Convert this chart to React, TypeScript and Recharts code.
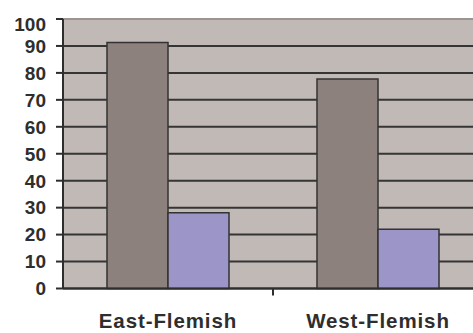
import {
  BarChart,
  Bar,
  XAxis,
  YAxis,
  CartesianGrid,
  ReferenceLine,
} from "recharts"

const categories = ["East-Flemish", "West-Flemish"]
const firstValues = [91.3, 77.7]
const secondValues = [28.1, 22.0]
const yTicks = [0, 10, 20, 30, 40, 50, 60, 70, 80, 90, 100]

const data = categories.map((name, i) => ({
  name,
  first: firstValues[i],
  second: secondValues[i],
}))

const FONT = "'Liberation Sans', Arial, Helvetica, sans-serif"
const INK = "#2e2e2e"
const Y_TICK_SIZE = 7
const Y_TICK_MARGIN = 10
const X_TICK_SIZE = 6
const X_TICK_MARGIN = 2

// y labels sit centred on their gridline, except the top one which is kept inside the frame
function YTick({ x, y, payload }: any) {
  const cy = Math.max(y, 24)
  return (
    <g>
      <line
        x1={x + Y_TICK_MARGIN}
        x2={x + Y_TICK_MARGIN + Y_TICK_SIZE}
        y1={y}
        y2={y}
        stroke={INK}
        strokeWidth={2}
      />
      <text
        x={x}
        y={cy}
        dy={6.8}
        textAnchor="end"
        fontFamily={FONT}
        fontWeight={700}
        fontSize={19}
        fill={INK}
      >
        {payload.value}
      </text>
    </g>
  )
}

// category label plus a small tick mark on the band's left boundary
function XTick({ x, y, payload, index }: any) {
  const left = x - (payload.offset ?? 0)
  const axisY = y - X_TICK_SIZE - X_TICK_MARGIN
  return (
    <g>
      {index > 0 && (
        <line x1={left} x2={left} y1={axisY} y2={axisY + 7} stroke={INK} strokeWidth={2} />
      )}
      <text
        x={x}
        y={327.5}
        textAnchor="middle"
        fontFamily={FONT}
        fontWeight={700}
        fontSize={20.5}
        letterSpacing={0.9}
        fill={INK}
      >
        {payload.value}
      </text>
    </g>
  )
}

export default function App() {
  return (
    <div
      style={{
        position: "fixed",
        left: 0,
        top: 0,
        width: 473,
        height: 333,
        overflow: "hidden",
        background: "#fff",
      }}
    >
      <BarChart
        width={483}
        height={333}
        data={data}
        margin={{ top: 19, right: 0, left: 0, bottom: 0 }}
        barCategoryGap={44}
        barGap={0}
      >
        <CartesianGrid
          vertical={false}
          fill="#C1B9B6"
          fillOpacity={1}
          stroke="#353535"
          strokeWidth={2}
        />
        <ReferenceLine y={100} stroke="#9c9491" strokeWidth={2} />
        <XAxis
          dataKey="name"
          height={44.5}
          axisLine={{ stroke: INK, strokeWidth: 2 }}
          tickLine={false}
          tickSize={X_TICK_SIZE}
          tickMargin={X_TICK_MARGIN}
          tick={<XTick />}
          interval={0}
        />
        <YAxis
          width={63}
          domain={[0, 100]}
          ticks={yTicks}
          interval={0}
          axisLine={{ stroke: INK, strokeWidth: 2 }}
          tickLine={false}
          tickSize={Y_TICK_SIZE}
          tickMargin={Y_TICK_MARGIN}
          tick={<YTick />}
        />
        <Bar
          dataKey="first"
          fill="#8D817D"
          stroke="#333"
          strokeWidth={1.5}
          isAnimationActive={false}
        />
        <Bar
          dataKey="second"
          fill="#9C95C8"
          stroke="#333"
          strokeWidth={1.5}
          isAnimationActive={false}
        />
      </BarChart>
    </div>
  )
}
